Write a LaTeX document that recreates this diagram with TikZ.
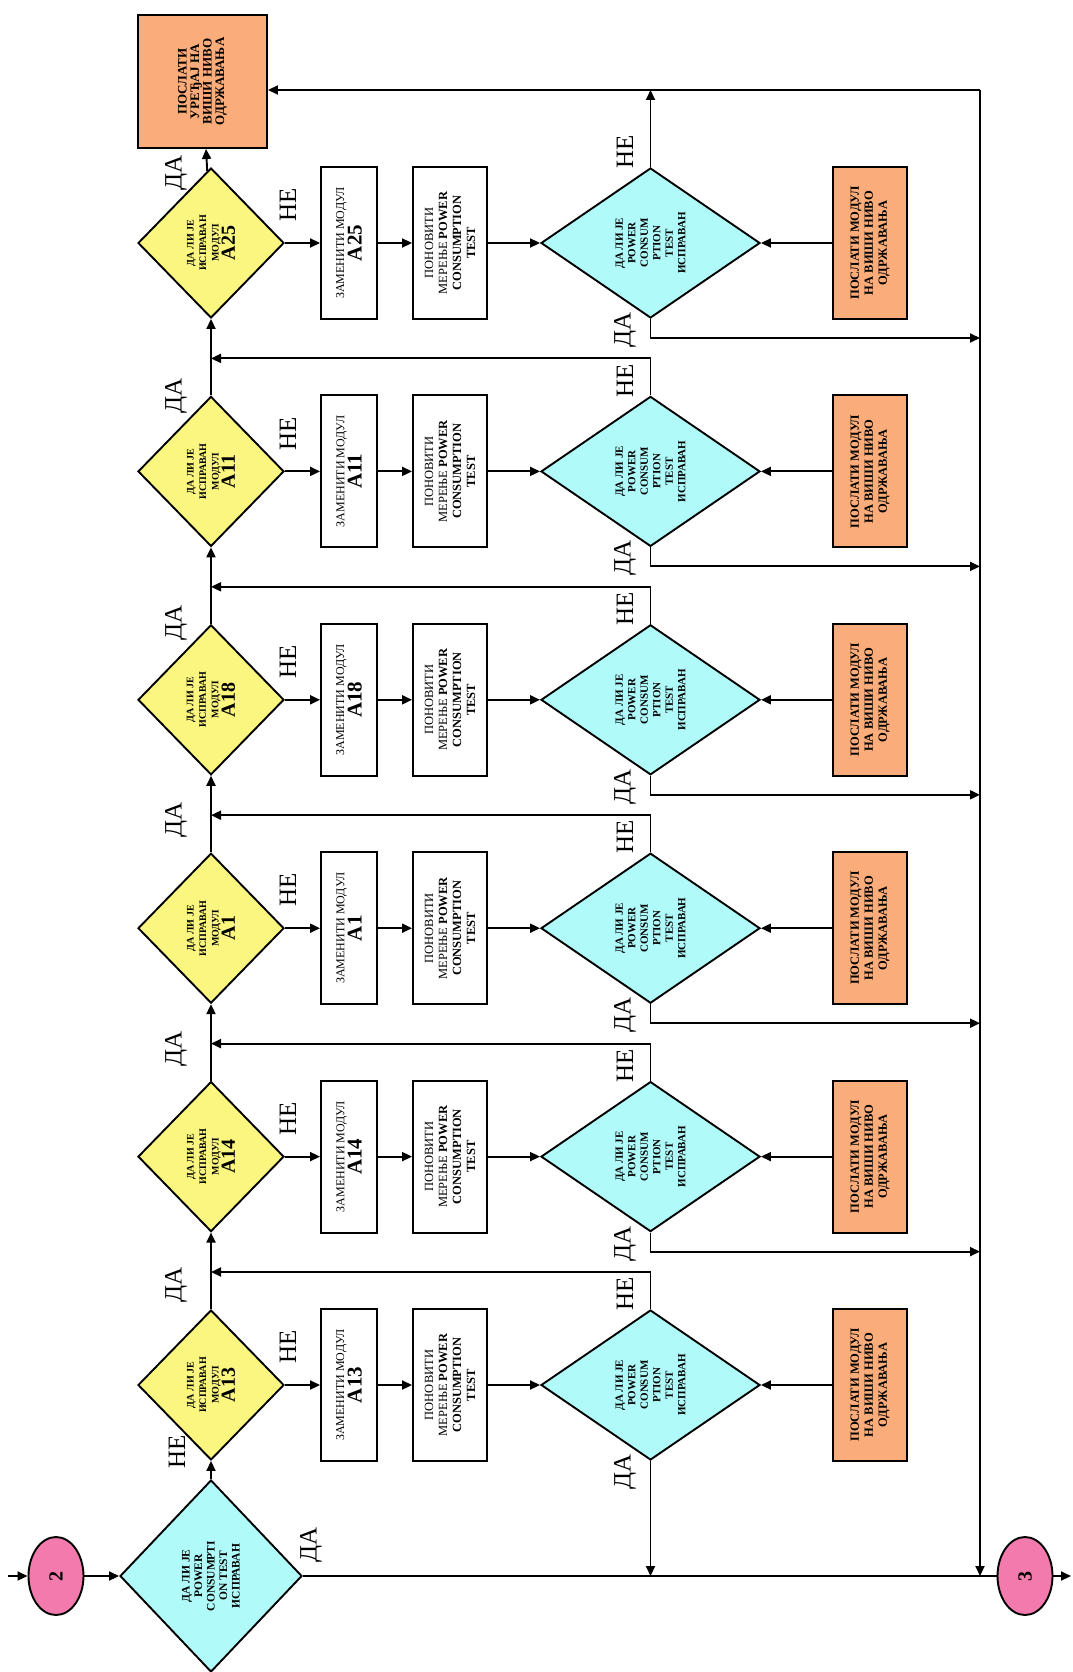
\documentclass[tikz,border=0pt]{standalone}
\usepackage{fontspec}
\setmainfont{Liberation Serif}
\usetikzlibrary{shapes.geometric,arrows.meta}
\definecolor{yellowF}{HTML}{FAF680}
\definecolor{cyanF}{HTML}{B0FAFA}
\definecolor{orangeF}{HTML}{FAAC7A}
\definecolor{pinkF}{HTML}{F27AAC}
\begin{document}
\begin{tikzpicture}[x=1pt,y=-1pt,
  line width=1.9pt,
  arr/.style={-{Triangle[length=10pt,width=9pt]}},
  base/.style={draw=black, line width=1.9pt, rotate=90, inner sep=0pt, align=center},
  ydia/.style={base, diamond, fill=yellowF, minimum width=150pt, minimum height=146pt,
    font=\fontsize{10}{12.5}\selectfont\bfseries},
  cdia/.style={base, diamond, fill=cyanF, minimum width=150pt, minimum height=219pt,
    font=\fontsize{11}{12.5}\selectfont\bfseries},
  bdia/.style={base, diamond, fill=cyanF, minimum width=192pt, minimum height=182pt,
    font=\fontsize{11.5}{12.5}\selectfont\bfseries},
  zbox/.style={base, rectangle, fill=white, minimum width=152pt, minimum height=56pt,
    font=\fontsize{12}{13}\selectfont},
  pbox/.style={base, rectangle, fill=white, minimum width=152pt, minimum height=74pt,
    font=\fontsize{12.5}{14}\selectfont},
  obox/.style={base, rectangle, fill=orangeF, minimum width=152pt, minimum height=74pt,
    font=\fontsize{12.5}{14}\selectfont\bfseries},
  tbox/.style={base, rectangle, fill=orangeF, minimum width=133pt, minimum height=129pt,
    font=\fontsize{13}{12.5}\selectfont\bfseries},
  ell/.style={base, ellipse, fill=pinkF, minimum width=78pt, minimum height=55pt,
    font=\fontsize{20}{20}\selectfont\bfseries},
  lbl/.style={rotate=90, inner sep=0pt, font=\fontsize{25}{25}\selectfont}
]
\useasboundingbox (0,0) rectangle (1072,1672);
\clip (0,0) rectangle (1072,1672);

% start / end connectors
\node[ell] (c2) at (56,1576) {2};
\node[ell] (c3) at (1025,1576) {3};
\coordinate (in) at (8,1576);
\coordinate (out) at (1071,1576);
\coordinate (tr) at (980,90);

\node[bdia] (b) at (211,1576) {ДА ЛИ ЈЕ\\POWER\\CONSUMPTI\\ON TEST\\ИСПРАВАН};
\node[tbox] (t) at (202.5,81.5) {ПОСЛАТИ\\УРЕЂАЈ НА\\ВИШИ НИВО\\ОДРЖАВАЊА};

\foreach \i/\lab/\c/\ya in {1/A25/243/70, 2/A11/471.4/75, 3/A18/699.8/77,
                            4/A1/928.2/108, 5/A14/1156.6/108, 6/A13/1385/100} {
  \node[ydia] (y\i) at (211,\c) {ДА ЛИ ЈЕ\\ИСПРАВАН\\МОДУЛ\\{\fontsize{20}{21}\selectfont \lab}};
  \node[zbox] (z\i) at (349,\c) {ЗАМЕНИТИ МОДУЛ\\{\bfseries\fontsize{21}{23}\selectfont \lab}};
  \node[pbox] (p\i) at (450,\c) {ПОНОВИТИ\\МЕРЕЊЕ \textbf{POWER}\\\textbf{CONSUMPTION}\\\textbf{TEST}};
  \node[cdia] (d\i) at (650.5,\c) {ДА ЛИ ЈЕ\\POWER\\CONSUM\\PTION\\TEST\\ИСПРАВАН};
  \node[obox] (o\i) at (870,\c) {ПОСЛАТИ МОДУЛ\\НА ВИШИ НИВО\\ОДРЖАВАЊА};
  \draw[arr] (y\i) -- (z\i);
  \draw[arr] (z\i) -- (p\i);
  \draw[arr] (p\i) -- (d\i);
  \draw[arr] (o\i) -- (d\i);
  \node[lbl] (yda\i) at (176,\c-\ya) {ДА};
  \node[lbl] (yne\i) at (288,\c-38) {НЕ};
  \node[lbl] (dne\i) at (625,\c-91) {НЕ};
  \node[lbl] (dda\i) at (625,\c+87) {ДА};
  \ifnum\i>1
    \draw[arr] (d\i) |- (211,\c-113);
  \fi
  \ifnum\i<6
    \draw[arr] (d\i) |- (980,\c+95);
  \fi
}
\foreach \i/\j in {2/1,3/2,4/3,5/4,6/5} {
  \draw[arr] (y\i) -- (y\j);
}
\draw[arr] (y1) -- (t);
\draw[arr] (d1) -- (d1 |- tr);
\draw[arr] (tr) -- (tr -| t.south);
\draw[arr] (tr) -- (tr |- c3);
\draw[arr] (d6) -- (d6 |- b);
\draw[arr] (b) -- (y6);
\draw[arr] (in) -- (c2);
\draw[arr] (c2) -- (b);
\draw[line width=2.8pt] (b) -- (c3);
\draw[arr] (c3) -- (out);
\node[lbl] (bne) at (177,1452) {НЕ};
\node[lbl] (bda) at (311,1545) {ДА};
\end{tikzpicture}
\end{document}
